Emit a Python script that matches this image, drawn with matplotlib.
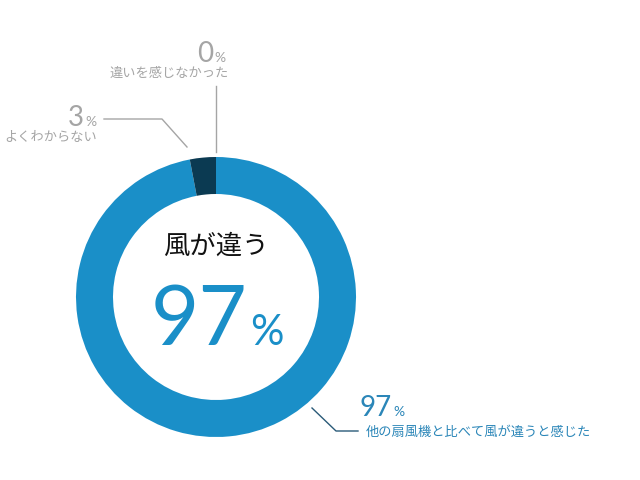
import matplotlib
matplotlib.use("Agg")
import matplotlib.pyplot as plt

plt.rcParams['font.family'] = ['Noto Sans CJK JP', 'DejaVu Sans']

labels = ["他の扇風機と比べて風が違うと感じた", "よくわからない", "違いを感じなかった"]
values = [97, 3, 0]
colors = ["#1a8fc8", "#0b3a52", "#cccccc"]
center_title = "風が違う"

fig = plt.figure(figsize=(6.4, 4.8), dpi=100)
ax = fig.add_axes([0, 0, 1, 1])
ax.set_xlim(0, 640)
ax.set_ylim(0, 480)
ax.axis('off')
ax.set_aspect('equal')

cx, cy, R = 216, 480 - 297, 140
ax.pie(values, colors=colors, startangle=90, counterclock=False, center=(cx, cy),
       radius=R, wedgeprops=dict(width=37, edgecolor='none'), frame=True)
ax.set_xlim(0, 640); ax.set_ylim(0, 480); ax.axis('off')

def Y(p): return 480 - p

gray = "#a5a5a5"
blue = "#2b86b8"
# center
ax.text(cx, Y(246), center_title, ha='center', va='center', fontsize=19, color='#111111')
ax.text(247, Y(345), f"{values[0]}", ha='right', va='baseline', fontsize=60, color='#1a8fc8', family='Lato')
ax.text(250, Y(345), "%", ha='left', va='baseline', fontsize=30, color='#1a8fc8', family='Lato')

# 0%
ax.plot([216, 216], [Y(86), Y(152)], color=gray, lw=1)
ax.text(213, Y(62), f"{values[2]}", ha='right', va='baseline', fontsize=20, color=gray, family='Lato')
ax.text(214, Y(62), "%", ha='left', va='baseline', fontsize=10, color=gray, family='Lato')
ax.text(229, Y(73), labels[2], ha='right', va='center', fontsize=9.5, color=gray)
# 3%
ax.plot([104, 162, 187], [Y(119), Y(119), Y(147)], color=gray, lw=1)
ax.text(84, Y(126), f"{values[1]}", ha='right', va='baseline', fontsize=20, color=gray, family='Lato')
ax.text(85, Y(126), "%", ha='left', va='baseline', fontsize=10, color=gray, family='Lato')
ax.text(97, Y(138), labels[1], ha='right', va='center', fontsize=9.5, color=gray)
# 97%
ax.plot([312, 336, 358], [Y(408), Y(431), Y(431)], color='#2a5a78', lw=1)
ax.text(392, Y(416), f"{values[0]}", ha='right', va='baseline', fontsize=20, color=blue, family='Lato')
ax.text(393, Y(416), "%", ha='left', va='baseline', fontsize=10, color=blue, family='Lato')
ax.text(366, Y(432), labels[0], ha='left', va='center', fontsize=9.5, color=blue)

fig.savefig("out.png", dpi=100)
